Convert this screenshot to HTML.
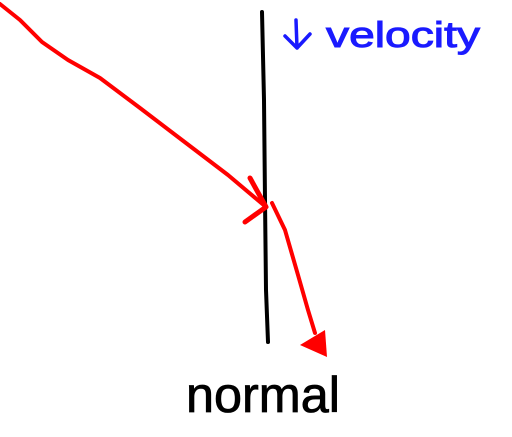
<!DOCTYPE html>
<html><head><meta charset="utf-8"><style>html,body{margin:0;padding:0;background:#fff;}svg{display:block}</style></head>
<body>
<svg width="512" height="437" viewBox="0 0 512 437">
<rect width="512" height="437" fill="#fff"/>
<path d="M262,12 L264,100 L265,200 L266,290 L268,342" stroke="#000" stroke-width="4" fill="none" stroke-linecap="round"/>
<path d="M0,4 L20,20 L42,42 L68,60 L100,78 L140,108 L182,140 L228,175 L266,207" stroke="#f00" stroke-width="4" fill="none" stroke-linecap="round" stroke-linejoin="round"/>
<path d="M250,178 L266,207 L245,222" stroke="#f00" stroke-width="5" fill="none" stroke-linecap="round" stroke-linejoin="round"/>
<path d="M272,203 L285,230 L298,275 L308,310 L315,333" stroke="#f00" stroke-width="4" fill="none" stroke-linecap="round" stroke-linejoin="round"/>
<polygon points="300,345 325,330 327,357" fill="#f00"/>
<path d="M296,20 L297,48 M285,36 L297,48 L310,34" stroke="#1a1aff" stroke-width="3.5" fill="none" stroke-linecap="round" stroke-linejoin="round"/>
<text x="326" y="47" textLength="154" lengthAdjust="spacingAndGlyphs" font-family="'Liberation Sans',sans-serif" font-size="36" fill="#1a1aff" stroke="#1a1aff" stroke-width="1">velocity</text>
<text x="186" y="412" textLength="154" lengthAdjust="spacingAndGlyphs" font-family="'Liberation Sans',sans-serif" font-size="50" fill="#000" stroke="#000" stroke-width="0.8">normal</text>
</svg>
</body></html>
